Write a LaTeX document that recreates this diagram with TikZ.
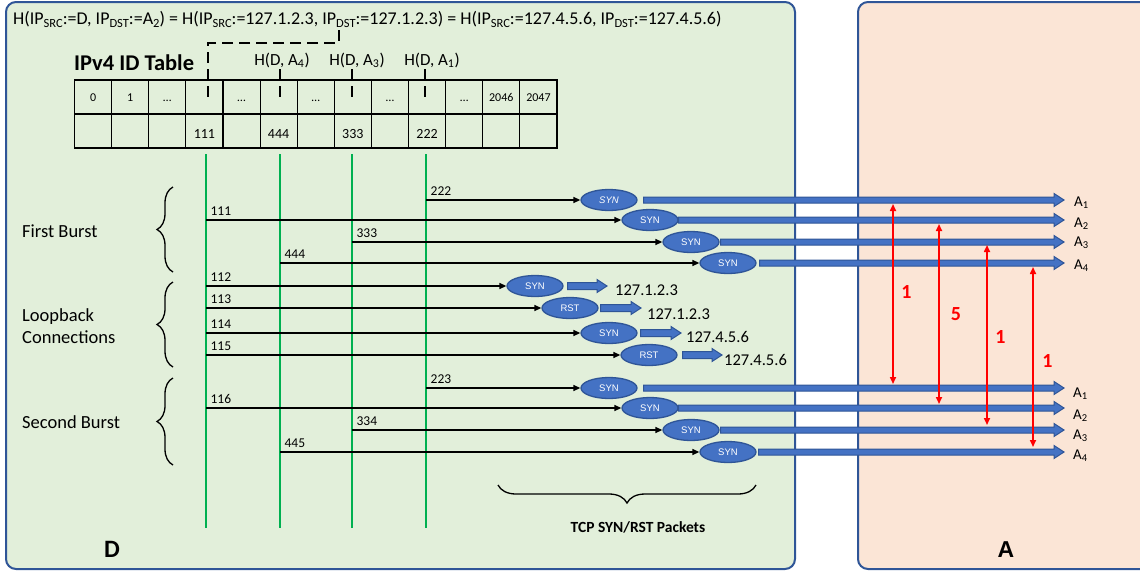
\documentclass[tikz,border=0pt]{standalone}
\usepackage{fontspec}
\setmainfont{Carlito}
\newfontfamily\arialf{Liberation Sans}
\usetikzlibrary{shapes.geometric,arrows.meta,decorations.pathreplacing,calc}
\definecolor{pgreen}{HTML}{E2EFDA}
\definecolor{ppeach}{HTML}{FBE5D6}
\definecolor{bdr}{HTML}{2F5597}
\definecolor{eblue}{HTML}{4472C4}
\definecolor{lgreen}{HTML}{00B050}
\newcommand\fs[1]{\fontsize{#1}{#1}\selectfont}
\newcommand\tsub[1]{\raisebox{-3.5pt}{\fontsize{12.5}{12.5}\selectfont #1}}
\newcommand\barr[3][3]{%
  \filldraw[barrow] let \p1=#2, \p2=#3 in
    (\x1,{\y1+#1pt}) -- ({\x2-10pt},{\y1+#1pt}) -- ({\x2-10pt},{\y1+6.5pt}) -- (\x2,\y1)
    -- ({\x2-10pt},{\y1-6.5pt}) -- ({\x2-10pt},{\y1-#1pt}) -- (\x1,{\y1-#1pt}) -- cycle;}
\begin{document}
\begin{tikzpicture}[x=1pt,y=-1pt,
  panel/.style={draw=bdr, line width=2pt, rounded corners=10pt},
  tbl/.style={line width=1.1pt, draw=black},
  dsh/.style={line width=1.8pt, dash pattern=on 11pt off 6pt},
  gline/.style={draw=lgreen, line width=1.8pt},
  pkt/.style={ellipse, draw=bdr, line width=1.3pt, fill=eblue, minimum width=56pt, minimum height=21pt, inner sep=0pt, text=white, font=\arialf\fs{9.5}},
  blk/.style={line width=1.3pt, -{Triangle[length=7pt,width=6pt]}},
  lab/.style={anchor=base west, inner sep=0pt, xshift=4pt, yshift=4.5pt, font=\fs{13.5}},
  barrow/.style={draw=bdr, fill=eblue, line width=1pt},
  rarr/.style={draw=red, line width=1.6pt, {Triangle[length=7pt,width=6pt]}-{Triangle[length=7pt,width=6pt]}},
  rlab/.style={text=red, font=\bfseries\fs{20}, anchor=base, inner sep=0pt},
  brc/.style={decorate, decoration={brace, amplitude=16pt}, line width=1.3pt},
  txt/.style={anchor=base west, inner sep=0pt, font=\fs{18.5}},
  alab/.style={anchor=base west, inner sep=0pt, font=\fs{15}},
  iplab/.style={anchor=base west, inner sep=0pt, font=\fs{16.5}},
  cell/.style={anchor=base, inner sep=0pt}
]
\useasboundingbox (0,0) rectangle (1140,571);
\clip (0,0) rectangle (1140,571);

% panels
\draw[panel, fill=pgreen] (6,2) rectangle (795,569);
\draw[panel, fill=ppeach] (858,2) rectangle (1170,569);

% title
\node[anchor=base west, inner sep=0pt, font=\fs{18}] (title) at (13,24)
 {H(IP\tsub{SRC}:=D, IP\tsub{DST}:=A\tsub{2}) = H(IP\tsub{SRC}:=127.1.2.3, IP\tsub{DST}:=127.1.2.3) = H(IP\tsub{SRC}:=127.4.5.6, IP\tsub{DST}:=127.4.5.6)};

% table
\node[anchor=base west, inner sep=0pt, font=\bfseries\fs{22.5}] (ttl) at (74,70) {IPv4 ID Table};
\draw[tbl] (74.5,80) rectangle (557,148);
\draw[tbl] (74.5,114) -- (557,114);
\foreach \i in {1,...,12} \draw[tbl] ({74.5+37.115*\i},80) -- ++(0,68);
\foreach \t [count=\i from 0] in {0,1,…,{},…,{},…,{},…,{},…,2046,2047}
  \node[cell, font=\fs{12}] (tt\i) at ({74.5+37.115*(\i+0.5)},101) {\t};
\foreach \t [count=\i from 0] in {{},{},{},111,{},444,{},333,{},222,{},{},{}}
  \node[cell, font=\fs{14}] (tb\i) at ({74.5+37.115*(\i+0.5)},138) {\t};

% hash labels and dashed pointers
\node[anchor=base, inner sep=0pt, font=\fs{17}] (h4) at (282,65) {H(D, A\textsubscript{4})};
\node[anchor=base, inner sep=0pt, font=\fs{17}] (h3) at (357,65) {H(D, A\textsubscript{3})};
\node[anchor=base, inner sep=0pt, font=\fs{17}] (h1) at (432,65) {H(D, A\textsubscript{1})};
\draw[dsh] (339,30) -- (339,43) -- (208,43) -- (208,103);
\draw[dsh] (280,69) -- (280,103);
\draw[dsh] (352,69) -- (352,103);
\draw[dsh] (425,69) -- (425,103);

% green lines
\draw[gline] (206,154) coordinate (g1t) -- (206,528);
\draw[gline] (280,154) coordinate (g2t) -- (280,528);
\draw[gline] (352,154) coordinate (g3t) -- (352,528);
\draw[gline] (426,154) coordinate (g4t) -- (426,528);

% left texts and braces
\node[txt] (fb) at (22,237) {First Burst};
\node[txt] (lb1) at (22,321) {Loopback};
\node[txt] (lb2) at (22,343) {Connections};
\node[txt] (sb) at (22,428) {Second Burst};
\draw[brc] (173,272) -- (173,187);
\draw[brc] (173,367) -- (173,282);
\draw[brc] (173,465) -- (173,378);

% packets
\node[pkt, font=\arialf\itshape\fs{9.5}] (s1) at (609,200) {SYN};
\node[pkt] (s2) at (650,220) {SYN};
\node[pkt] (s3) at (691,242) {SYN};
\node[pkt] (s4) at (728,263) {SYN};
\node[pkt] (l1) at (535,286) {SYN};
\node[pkt] (l2) at (570,308) {RST};
\node[pkt] (l3) at (609,333) {SYN};
\node[pkt] (l4) at (649,355) {RST};
\node[pkt] (t1) at (609,388) {SYN};
\node[pkt] (t2) at (650,408) {SYN};
\node[pkt] (t3) at (691,430) {SYN};
\node[pkt] (t4) at (728,452) {SYN};

% black arrows
\draw[blk] (g4t |- s1) node[lab]{222} -- (s1);
\draw[blk] (g1t |- s2) node[lab]{111} -- (s2);
\draw[blk] (g3t |- s3) node[lab]{333} -- (s3);
\draw[blk] (g2t |- s4) node[lab]{444} -- (s4);
\draw[blk] (g1t |- l1) node[lab]{112} -- (l1);
\draw[blk] (g1t |- l2) node[lab]{113} -- (l2);
\draw[blk] (g1t |- l3) node[lab]{114} -- (l3);
\draw[blk] (g1t |- l4) node[lab]{115} -- (l4);
\draw[blk] (g4t |- t1) node[lab]{223} -- (t1);
\draw[blk] (g1t |- t2) node[lab]{116} -- (t2);
\draw[blk] (g3t |- t3) node[lab]{334} -- (t3);
\draw[blk] (g2t |- t4) node[lab]{445} -- (t4);

% A labels
\node[alab] (a1) at (1074,206) {A\textsubscript{1}};
\node[alab] (a2) at (1074,227) {A\textsubscript{2}};
\node[alab] (a3) at (1074,246) {A\textsubscript{3}};
\node[alab] (a4) at (1074,269) {A\textsubscript{4}};
\node[alab] (b1) at (1073,397) {A\textsubscript{1}};
\node[alab] (b2) at (1073,419) {A\textsubscript{2}};
\node[alab] (b3) at (1073,439) {A\textsubscript{3}};
\node[alab] (b4) at (1073,459) {A\textsubscript{4}};

% loopback destination labels
\node[iplab] (ip1) at (615,295) {127.1.2.3};
\node[iplab] (ip2) at (647,319) {127.1.2.3};
\node[iplab] (ip3) at (686,342) {127.4.5.6};
\node[iplab] (ip4) at (724,365) {127.4.5.6};

% blue block arrows
\barr{([xshift=6pt]s1.east)}{([xshift=-10pt]a1.west)}
\barr{(s2.east)}{([xshift=-10pt]a2.west)}
\barr{([xshift=1pt]s3.east)}{([xshift=-10pt]a3.west)}
\barr{([xshift=3pt]s4.east)}{([xshift=-10pt]a4.west)}
\barr{([xshift=6pt]t1.east)}{([xshift=-9pt]b1.west)}
\barr{(t2.east)}{([xshift=-9pt]b2.west)}
\barr{([xshift=1pt]t3.east)}{([xshift=-9pt]b3.west)}
\barr{([xshift=2pt]t4.east)}{([xshift=-9pt]b4.west)}
\barr[3.5]{([xshift=4pt]l1.east)}{([xshift=-8pt]ip1.west)}
\barr[3.5]{([xshift=2pt]l2.east)}{([xshift=-6pt]ip2.west)}
\barr[3.5]{([xshift=3pt]l3.east)}{([xshift=-5pt]ip3.west)}
\barr[3.5]{([xshift=5pt]l4.east)}{([xshift=-2pt]ip4.west)}

% red difference arrows
\coordinate (r1a) at (893,204); \coordinate (r1b) at (893,384);
\coordinate (r2a) at (939,224); \coordinate (r2b) at (939,404);
\coordinate (r3a) at (987,245); \coordinate (r3b) at (987,425);
\coordinate (r4a) at (1033,267); \coordinate (r4b) at (1033,447);
\draw[rarr] (r1a) -- (r1b);
\draw[rarr] (r2a) -- (r2b);
\draw[rarr] (r3a) -- (r3b);
\draw[rarr] (r4a) -- (r4b);
\node[rlab] (d1) at (906.5,298) {1};
\node[rlab] (d2) at (956,320) {5};
\node[rlab] (d3) at (1000.5,343) {1};
\node[rlab] (d4) at (1047.5,367) {1};

% bottom brace and labels
\draw[brc, decoration={brace, amplitude=18pt}] (756,485) -- (498,485);
\node[anchor=base, inner sep=0pt, font=\bfseries\fs{15.5}] (tcp) at (638,532) {TCP SYN/RST Packets};
\node[anchor=base, inner sep=0pt, font=\bfseries\fs{25}] (dl) at (112,557) {D};
\node[anchor=base, inner sep=0pt, font=\arialf\bfseries\fs{23}] (al) at (1006,557) {A};
\end{tikzpicture}
\end{document}
